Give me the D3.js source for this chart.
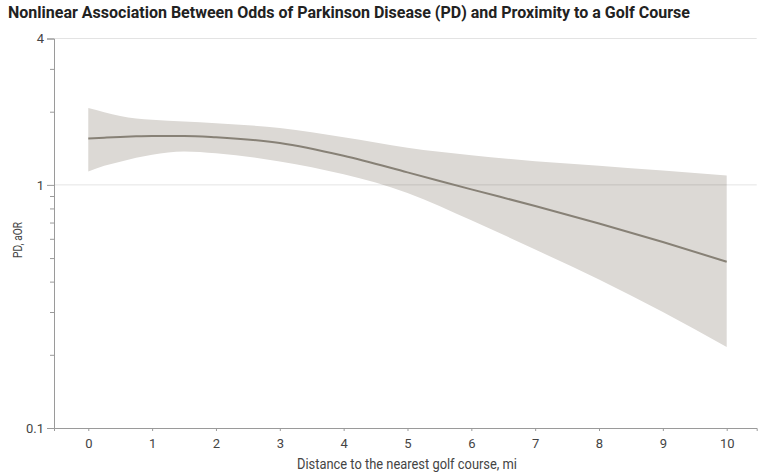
<!DOCTYPE html>
<html>
<head>
<meta charset="utf-8">
<script src="https://cdn.jsdelivr.net/npm/d3@7"></script>
<style>
  html, body { margin: 0; padding: 0; background: #fff; }
  svg { display: block; }
  text { font-family: Roboto, "Noto Sans", sans-serif; }
</style>
</head>
<body>
<svg id="chart" width="768" height="474"></svg>
<script>
// ---- data ----
const titleText = "Nonlinear Association Between Odds of Parkinson Disease (PD) and Proximity to a Golf Course";
const xLabel = "Distance to the nearest golf course, mi";
const yLabel = "PD, aOR";
const distance = [0, 0.25, 0.5, 0.75, 1, 1.5, 2, 3, 4, 5, 6, 7, 8, 9, 10];
const aor   = [1.55, 1.563, 1.575, 1.584, 1.589, 1.59, 1.569, 1.486, 1.317, 1.126, 0.958, 0.819, 0.694, 0.582, 0.483];
const upper = [2.07, 1.99, 1.92, 1.875, 1.854, 1.822, 1.793, 1.713, 1.569, 1.421, 1.323, 1.252, 1.199, 1.145, 1.092];
const lower = [1.135, 1.198, 1.244, 1.292, 1.33, 1.372, 1.349, 1.248, 1.105, 0.927, 0.715, 0.542, 0.408, 0.30, 0.2155];
const xTicks = [0, 1, 2, 3, 4, 5, 6, 7, 8, 9, 10];
const yMajorTicks = [0.1, 1, 4];
const yMinorTicks = [0.2, 0.3, 0.4, 0.5, 0.6, 0.7, 0.8, 0.9, 2, 3];

const rows = distance.map((d, i) => ({ d, est: aor[i], lo: lower[i], hi: upper[i] }));

const svg = d3.select("#chart");
const x = d3.scaleLinear().domain([-0.537, 10.47]).range([54, 756.7]);
const y = d3.scaleLog().domain([0.1, 4]).range([428, 38.5]);

// band
svg.append("path")
  .datum(rows)
  .attr("fill", "#dcd9d5")
  .attr("d", d3.area().curve(d3.curveMonotoneX)
    .x(r => x(r.d)).y0(r => y(r.lo)).y1(r => y(r.hi)));

// gridlines at major ticks above 0.1
svg.append("g").selectAll("line")
  .data(yMajorTicks.filter(v => v > 0.1))
  .join("line")
  .attr("x1", x.range()[0]).attr("x2", x.range()[1])
  .attr("y1", v => y(v)).attr("y2", v => y(v))
  .attr("stroke", "rgba(0,0,0,0.11)").attr("stroke-width", 1);

// estimate line
svg.append("path")
  .datum(rows)
  .attr("fill", "none")
  .attr("stroke", "#878176")
  .attr("stroke-width", 2)
  .attr("d", d3.line().curve(d3.curveMonotoneX).x(r => x(r.d)).y(r => y(r.est)));

// x axis
const gx = svg.append("g").attr("transform", `translate(0,${y(0.1)})`)
  .call(d3.axisBottom(x).tickValues(xTicks).tickFormat(d3.format("d")).tickSizeOuter(0).tickSize(3).tickPadding(8));
gx.select(".domain").attr("stroke", "#9a9a9a");
gx.selectAll(".tick line").attr("stroke", "#9a9a9a");
gx.selectAll(".tick text").attr("fill", "#444").style("font-size", "13px")
  .style("font-family", "Roboto, sans-serif");

// y axis major
const gy = svg.append("g").attr("transform", `translate(${x.range()[0]},0)`)
  .call(d3.axisLeft(y).tickValues(yMajorTicks).tickFormat(d => String(d)).tickSizeOuter(0).tickSize(7).tickPadding(3));
gy.select(".domain").attr("stroke", "#9a9a9a");
gy.selectAll(".tick line").attr("stroke", "#9a9a9a");
gy.selectAll(".tick text").attr("fill", "#444").style("font-size", "13px")
  .style("font-family", "Roboto, sans-serif");
// y axis minor
const gym = svg.append("g").attr("transform", `translate(${x.range()[0]},0)`)
  .call(d3.axisLeft(y).tickValues(yMinorTicks).tickFormat("").tickSizeOuter(0).tickSize(4));
gym.select(".domain").remove();
gym.selectAll(".tick line").attr("stroke", "#9a9a9a");

// axis titles
svg.append("text")
  .attr("x", 407).attr("y", 469)
  .attr("text-anchor", "middle")
  .attr("fill", "#444").style("font-size", "14px")
  .attr("textLength", 220).attr("lengthAdjust", "spacingAndGlyphs")
  .text(xLabel);
svg.append("text")
  .attr("transform", "translate(22,240) rotate(-90)")
  .attr("text-anchor", "middle")
  .attr("fill", "#444").style("font-size", "13.5px")
  .attr("textLength", 36).attr("lengthAdjust", "spacingAndGlyphs")
  .text(yLabel);

// title
svg.append("text")
  .attr("x", 8).attr("y", 18)
  .attr("fill", "#222").style("font-size", "16px").style("font-weight", "bold")
  .attr("textLength", 682).attr("lengthAdjust", "spacingAndGlyphs")
  .text(titleText);
</script>
</body>
</html>
